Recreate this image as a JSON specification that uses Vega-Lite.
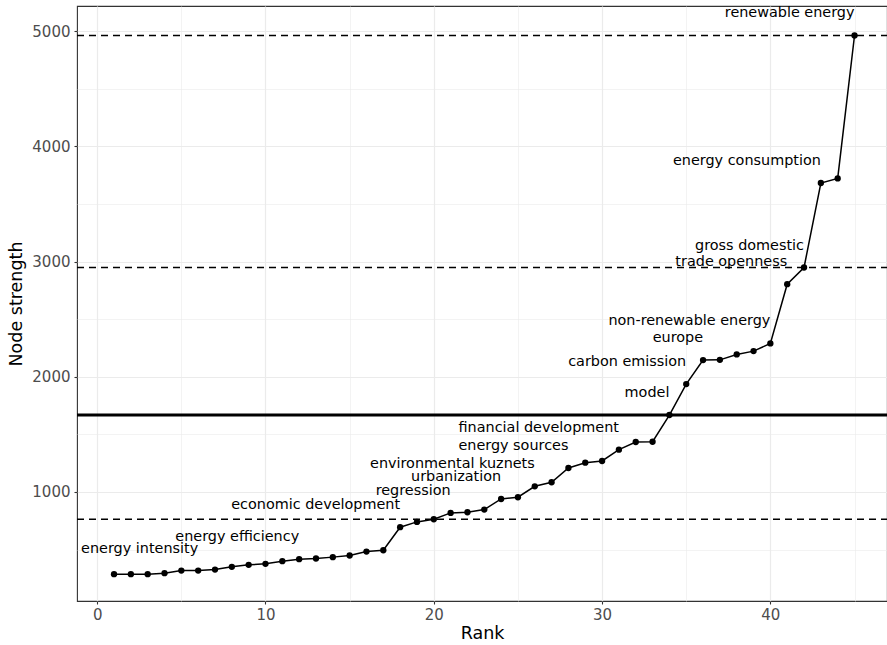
{
  "$schema": "https://vega.github.io/schema/vega-lite/v6.json",
  "width": 810,
  "height": 595,
  "autosize": {"type": "none"},
  "padding": {"left": 77, "top": 6, "right": 0, "bottom": 44},
  "config": {
    "font": "DejaVu Sans",
    "view": {"stroke": "#333333", "strokeWidth": 1.1}
  },
  "data": {
    "values": [
      {"rank": 1, "strength": 286, "label": "", "hline": null},
      {"rank": 2, "strength": 286, "label": "", "hline": null},
      {"rank": 3, "strength": 286, "label": "", "hline": null},
      {"rank": 4, "strength": 295, "label": "", "hline": null},
      {"rank": 5, "strength": 317, "label": "", "hline": null},
      {"rank": 6, "strength": 317, "label": "energy intensity", "hline": null},
      {"rank": 7, "strength": 326, "label": "", "hline": null},
      {"rank": 8, "strength": 350, "label": "", "hline": null},
      {"rank": 9, "strength": 367, "label": "", "hline": null},
      {"rank": 10, "strength": 376, "label": "", "hline": null},
      {"rank": 11, "strength": 399, "label": "", "hline": null},
      {"rank": 12, "strength": 416, "label": "energy efficiency", "hline": null},
      {"rank": 13, "strength": 422, "label": "", "hline": null},
      {"rank": 14, "strength": 434, "label": "", "hline": null},
      {"rank": 15, "strength": 448, "label": "", "hline": null},
      {"rank": 16, "strength": 482, "label": "", "hline": null},
      {"rank": 17, "strength": 494, "label": "", "hline": null},
      {"rank": 18, "strength": 694, "label": "economic development", "hline": null},
      {"rank": 19, "strength": 740, "label": "", "hline": null},
      {"rank": 20, "strength": 763, "label": "", "hline": "dashed"},
      {"rank": 21, "strength": 818, "label": "regression", "hline": null},
      {"rank": 22, "strength": 824, "label": "", "hline": null},
      {"rank": 23, "strength": 847, "label": "", "hline": null},
      {"rank": 24, "strength": 939, "label": "urbanization", "hline": null},
      {"rank": 25, "strength": 954, "label": "", "hline": null},
      {"rank": 26, "strength": 1049, "label": "environmental kuznets", "hline": null},
      {"rank": 27, "strength": 1084, "label": "", "hline": null},
      {"rank": 28, "strength": 1208, "label": "energy sources", "hline": null},
      {"rank": 29, "strength": 1254, "label": "", "hline": null},
      {"rank": 30, "strength": 1269, "label": "", "hline": null},
      {"rank": 31, "strength": 1367, "label": "financial development", "hline": null},
      {"rank": 32, "strength": 1434, "label": "", "hline": null},
      {"rank": 33, "strength": 1436, "label": "", "hline": null},
      {"rank": 34, "strength": 1668, "label": "model", "hline": "solid"},
      {"rank": 35, "strength": 1937, "label": "carbon emission", "hline": null},
      {"rank": 36, "strength": 2145, "label": "europe", "hline": null},
      {"rank": 37, "strength": 2147, "label": "", "hline": null},
      {"rank": 38, "strength": 2194, "label": "", "hline": null},
      {"rank": 39, "strength": 2223, "label": "", "hline": null},
      {"rank": 40, "strength": 2290, "label": "non-renewable energy", "hline": null},
      {"rank": 41, "strength": 2804, "label": "trade openness", "hline": null},
      {"rank": 42, "strength": 2949, "label": "gross domestic", "hline": "dashed"},
      {"rank": 43, "strength": 3683, "label": "energy consumption", "hline": null},
      {"rank": 44, "strength": 3723, "label": "", "hline": null},
      {"rank": 45, "strength": 4964, "label": "renewable energy", "hline": "dashed"}
    ]
  },
  "encoding": {
    "x": {
      "field": "rank", "type": "quantitative",
      "scale": {"domain": [-1.2, 46.93], "nice": false, "zero": false},
      "axis": {
        "title": "Rank",
        "values": [0, 5, 10, 15, 20, 25, 30, 35, 40, 45],
        "labelExpr": "datum.value % 10 === 0 ? datum.label : ''",
        "domain": false,
        "grid": true,
        "gridColor": "#EBEBEB",
        "gridWidth": {"condition": {"test": "datum.value % 10 !== 0", "value": 0.6}, "value": 1.2},
        "tickOpacity": {"condition": {"test": "datum.value % 10 !== 0", "value": 0}, "value": 1},
        "tickColor": "#333333",
        "tickSize": 3,
        "tickWidth": 1.1,
        "labelFontSize": 15,
        "labelColor": "#4D4D4D",
        "labelPadding": 3,
        "labelFlush": false,
        "titleFontSize": 17.5,
        "titleFontWeight": "normal",
        "titleColor": "#000000",
        "titlePadding": 2
      }
    },
    "y": {
      "field": "strength", "type": "quantitative",
      "scale": {"domain": [53, 5220], "nice": false, "zero": false},
      "axis": {
        "title": "Node strength",
        "values": [500, 1000, 1500, 2000, 2500, 3000, 3500, 4000, 4500, 5000],
        "labelExpr": "datum.value % 1000 === 0 ? datum.label : ''",
        "format": "d",
        "domain": false,
        "grid": true,
        "gridColor": "#EBEBEB",
        "gridWidth": {"condition": {"test": "datum.value % 1000 !== 0", "value": 0.6}, "value": 1.2},
        "tickOpacity": {"condition": {"test": "datum.value % 1000 !== 0", "value": 0}, "value": 1},
        "tickColor": "#333333",
        "tickSize": 3,
        "tickWidth": 1.1,
        "labelFontSize": 15,
        "labelColor": "#4D4D4D",
        "labelPadding": 4,
        "labelFlush": false,
        "titleFontSize": 17.5,
        "titleFontWeight": "normal",
        "titleColor": "#000000",
        "titlePadding": 6
      }
    }
  },
  "layer": [
    {
      "mark": {"type": "line", "color": "#000000", "strokeWidth": 1.5}
    },
    {
      "transform": [{"filter": "datum.hline != null"}],
      "mark": {"type": "rule", "color": "#000000"},
      "encoding": {
        "x": {"datum": -1.2, "type": "quantitative"},
        "x2": {"datum": 46.93},
        "strokeDash": {"field": "hline", "type": "nominal", "scale": {"domain": ["dashed", "solid"], "range": [[7, 5], [1, 0]]}, "legend": null},
        "strokeWidth": {"field": "hline", "type": "nominal", "scale": {"domain": ["dashed", "solid"], "range": [1.4, 3]}, "legend": null}
      }
    },
    {
      "mark": {"type": "circle", "color": "#000000", "opacity": 1, "size": 40}
    },
    {
      "mark": {"type": "text", "align": "right", "baseline": "middle", "dy": -22, "fontSize": 14.4, "color": "#000000"},
      "encoding": {
        "text": {"field": "label", "type": "nominal"}
      }
    }
  ]
}
